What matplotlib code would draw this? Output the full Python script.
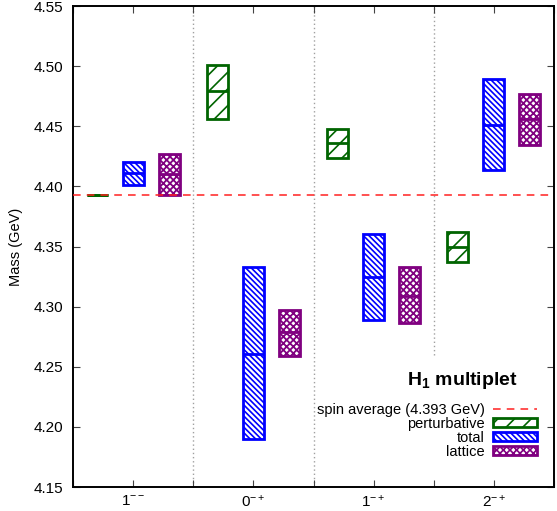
import numpy as np
import matplotlib
matplotlib.use("Agg")
import matplotlib.pyplot as plt
from matplotlib.patches import Patch
from matplotlib.lines import Line2D

plt.rcParams['font.family'] = ['Liberation Sans', 'DejaVu Sans']
plt.rcParams['mathtext.fontset'] = 'custom'
plt.rcParams['mathtext.rm'] = 'Liberation Sans'
plt.rcParams['mathtext.bf'] = 'Liberation Sans:bold'

# values (GeV)
channels = [r'$\mathregular{1^{--}}$', r'$\mathregular{0^{-+}}$',
            r'$\mathregular{1^{-+}}$', r'$\mathregular{2^{-+}}$']
pert_mid = [4.393, 4.479, 4.436, 4.350]
pert_lo = [4.393, 4.456, 4.424, 4.337]
pert_hi = [4.393, 4.501, 4.448, 4.362]
total_mid = [4.411, 4.261, 4.325, 4.451]
total_lo = [4.401, 4.190, 4.289, 4.414]
total_hi = [4.420, 4.333, 4.360, 4.489]
latt_mid = [4.410, 4.279, 4.309, 4.456]
latt_lo = [4.393, 4.259, 4.286, 4.434]
latt_hi = [4.427, 4.297, 4.333, 4.477]
spin_avg = 4.393

green = '#006400'
blue = '#0000ff'
purple = '#800080'
h_pert = '//'
h_total = '\\' * 6
h_latt = 'x' * 5

fig = plt.figure(figsize=(5.57, 5.11), dpi=100)
ax = fig.add_axes([73 / 557, 24 / 511, 481 / 557, 481 / 511])

pos = np.arange(1, len(channels) + 1)
w = 0.175
series = [
    (pos - 0.3, pert_lo, pert_hi, pert_mid, green, h_pert, 1.2),
    (pos, total_lo, total_hi, total_mid, blue, h_total, 1.2),
    (pos + 0.3, latt_lo, latt_hi, latt_mid, purple, h_latt, 1.3),
]
for xs, lo, hi, mid, c, h, hl in series:
    plt.rcParams['hatch.linewidth'] = hl
    lo = np.array(lo)
    hi = np.array(hi)
    ax.bar(xs, hi - lo, bottom=lo, width=w, color='white', edgecolor=c,
           hatch=h, linewidth=2, zorder=3)
    ax.hlines(mid, xs - w / 2, xs + w / 2, color=c, linewidth=2, zorder=4)

ax.axhline(spin_avg, color='#ff2020', linestyle=(0, (5, 4)), linewidth=1.1, zorder=5)

# separators between channels
for xv in [1.5, 2.5]:
    ax.axvline(xv, color='#a0a0a0', linestyle=(0, (1, 2)), linewidth=1, zorder=1)
ax.plot([3.5, 3.5], [4.26, 4.55], color='#a0a0a0', linestyle=(0, (1, 2)),
        linewidth=1, zorder=1)

ax.set_xlim(0.5, 4.5)
ax.set_ylim(4.15, 4.55)
xt = np.arange(0.5, 4.51, 0.5)
ax.set_xticks(xt)
ax.set_xticklabels([channels[int(v) - 1] if v == int(v) and 1 <= v <= 4 else ''
                    for v in xt])
ax.set_yticks(np.arange(4.15, 4.551, 0.05))
ax.yaxis.set_major_formatter(matplotlib.ticker.FormatStrFormatter('%.2f'))
ax.tick_params(direction='in', top=True, right=True, length=5, width=0.8,
               labelsize=11, color='#444444')
ax.tick_params(axis='y', pad=7)
ax.tick_params(axis='x', pad=5)
for s in ax.spines.values():
    s.set_linewidth(1.4)
ax.set_ylabel('Mass (GeV)', fontsize=10.5, labelpad=8)

plt.rcParams['hatch.linewidth'] = 1.2
handles = [
    Line2D([], [], color='#ff2020', linestyle=(0, (5, 4)), linewidth=1.1),
    Patch(facecolor='white', edgecolor=green, hatch=h_pert, linewidth=2),
    Patch(facecolor='white', edgecolor=blue, hatch=h_total, linewidth=2),
    Patch(facecolor='white', edgecolor=purple, hatch=h_latt, linewidth=2),
]
labels = ['spin average (4.393 GeV)', 'perturbative', 'total', 'lattice']
ax.legend(handles, labels, loc='upper right', bbox_to_anchor=(0.9647, 0.175),
          frameon=False, markerfirst=False, fontsize=10.5, handlelength=3.0,
          handleheight=0.55, handletextpad=0.6, labelspacing=0.0,
          borderpad=0, borderaxespad=0)
ax.text(0.81, 0.222, r'$\mathbf{H_1}$ multiplet', transform=ax.transAxes,
        ha='center', va='center', fontsize=14, fontweight='bold')

fig.savefig('out.png', dpi=100)
